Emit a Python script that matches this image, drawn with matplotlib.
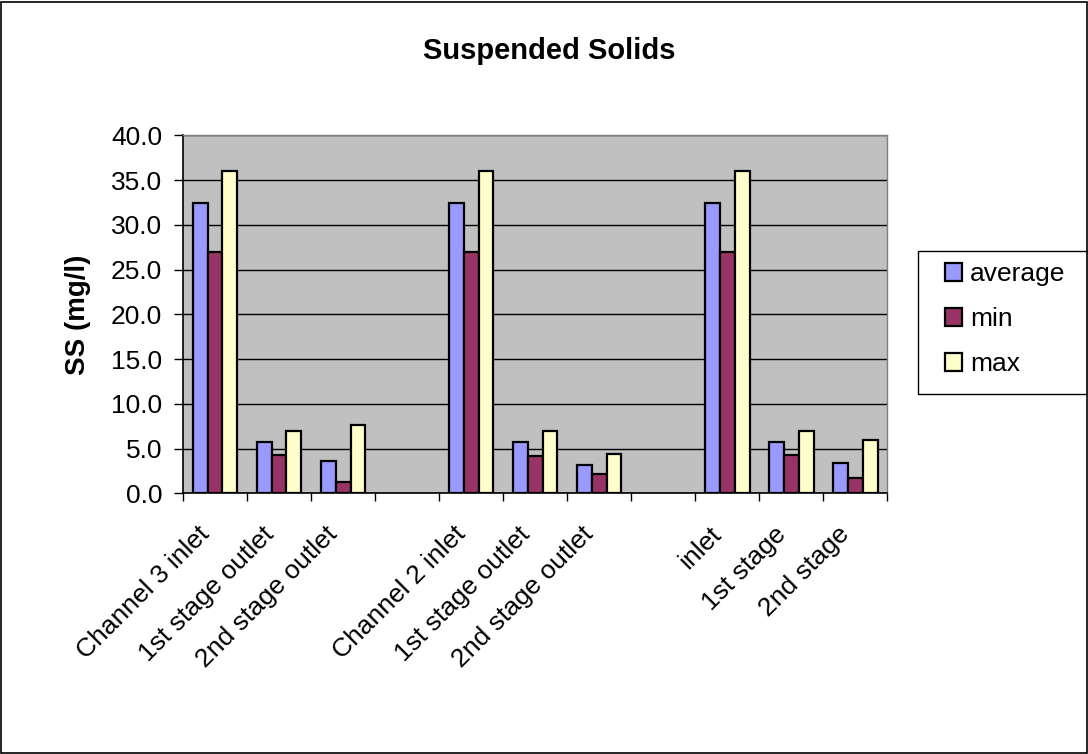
import numpy as np
import matplotlib.pyplot as plt
import matplotlib.transforms as mtransforms
from matplotlib.patches import Rectangle

categories = ["Channel 3 inlet", "1st stage outlet", "2nd stage outlet", "",
              "Channel 2 inlet", "1st stage outlet", "2nd stage outlet", "",
              "inlet", "1st stage", "2nd stage"]
average = [32.5, 5.7, 3.6, np.nan, 32.5, 5.7, 3.2, np.nan, 32.5, 5.7, 3.4]
minimum = [27.0, 4.3, 1.3, np.nan, 27.0, 4.2, 2.2, np.nan, 27.0, 4.3, 1.7]
maximum = [36.0, 7.0, 7.7, np.nan, 36.0, 7.0, 4.4, np.nan, 36.0, 7.0, 6.0]

series = [("average", average, "#9999FF"),
          ("min", minimum, "#993366"),
          ("max", maximum, "#FFFFCC")]

plt.rcParams['font.family'] = ['Liberation Sans', 'DejaVu Sans']

fig = plt.figure(figsize=(10.88, 7.54), dpi=100)
# outer chart border
fig.patches.append(Rectangle((0.001, 0.001), 0.998, 0.997, transform=fig.transFigure,
                             fill=False, edgecolor="black", linewidth=1.2))
ax = fig.add_axes([0.1682, 0.3455, 0.6471, 0.4748])
ax.set_facecolor("#C0C0C0")

x = np.arange(len(categories))
w = 0.234
for k, (name, vals, col) in enumerate(series):
    ax.bar(x + (k - 1) * w, vals, width=w, color=col, edgecolor="black",
           linewidth=1.6, label=name, zorder=3)

ax.set_xlim(-0.5, len(categories) - 0.5)
ax.set_ylim(0, 40)
ax.set_yticks(np.arange(0, 40.1, 5))
ax.set_yticklabels([f"{v:.1f}" for v in np.arange(0, 40.1, 5)], fontsize=19)
ax.yaxis.grid(True, color="black", linewidth=1.0, zorder=0)
ax.set_axisbelow(True)

ax.set_xticks(x)
ax.set_xticklabels(categories, rotation=45, ha="right", va="center",
                   rotation_mode="anchor", fontsize=19)
ax.tick_params(axis="x", length=0, pad=28)
# nudge the slanted labels a little to the left
shift = mtransforms.ScaledTranslation(-0.09, 0.02, fig.dpi_scale_trans)
for lbl in ax.get_xticklabels():
    lbl.set_transform(lbl.get_transform() + shift)
ax.set_xticks(np.arange(-0.5, len(categories)), minor=True)
ax.tick_params(axis="x", which="minor", length=6, width=1.0, direction="out")
ax.tick_params(axis="y", length=6.5, width=1.0, direction="out", pad=8.5)

for side in ("top", "right"):
    ax.spines[side].set_color("#808080")
    ax.spines[side].set_linewidth(1.0)
for side in ("left", "bottom"):
    ax.spines[side].set_color("black")
    ax.spines[side].set_linewidth(1.2)

ax.set_ylabel("SS (mg/l)", fontsize=20, fontweight="bold", labelpad=14)
fig.text(0.505, 0.933, "Suspended Solids", ha="center", va="center",
         fontsize=21, fontweight="bold")

# legend box drawn separately so the entries can sit further in
fig.patches.append(Rectangle((918 / 1088, 1 - 394 / 754), 170 / 1088, 143 / 754,
                             transform=fig.transFigure, fill=False,
                             edgecolor="black", linewidth=1.0))
fig.legend(loc="upper left", bbox_to_anchor=(0.8686, 0.6525), fontsize=19,
           frameon=False, handlelength=0.65, handleheight=0.65,
           handletextpad=0.3, labelspacing=0.8, borderpad=0, borderaxespad=0)

fig.savefig("out.png", dpi=100)
